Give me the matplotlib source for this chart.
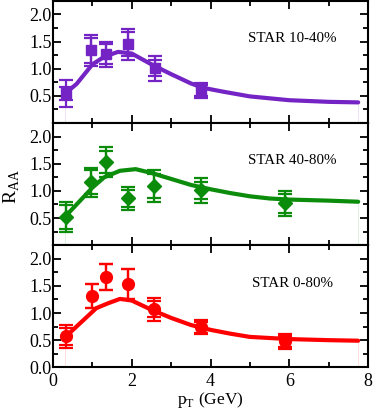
import matplotlib
matplotlib.use("Agg")
import matplotlib.pyplot as plt
from matplotlib.ticker import MultipleLocator

plt.rcParams['font.family'] = ['Liberation Serif', 'DejaVu Serif']

# ---- data: STAR 10-40% ----
pt_1040 = [0.32, 0.97, 1.34, 1.90, 2.58, 3.76]
r_1040 = [0.55, 1.34, 1.27, 1.45, 1.01, 0.60]
errA_1040 = [0.25, 0.29, 0.23, 0.29, 0.23, 0.14]
errB_1040 = [0.12, 0.23, 0.18, 0.22, 0.15, 0.10]
curve_x_1040 = [0.3, 0.6, 1.0, 1.3, 1.65, 2.0, 2.5, 3.0, 3.5, 3.8, 4.3, 5.0, 6.0, 7.0, 7.75]
curve_y_1040 = [0.54, 0.72, 1.08, 1.22, 1.31, 1.28, 1.08, 0.90, 0.73, 0.65, 0.58, 0.49, 0.42, 0.39, 0.38]

# ---- data: STAR 40-80% ----
pt_4080 = [0.32, 0.97, 1.35, 1.90, 2.56, 3.75, 5.90]
r_4080 = [0.52, 1.16, 1.53, 0.86, 1.09, 1.01, 0.77]
errA_4080 = [0.28, 0.27, 0.27, 0.21, 0.29, 0.23, 0.23]
errB_4080 = [0.22, 0.22, 0.20, 0.16, 0.23, 0.16, 0.17]
curve_x_4080 = [0.3, 0.6, 1.0, 1.3, 1.7, 2.1, 2.5, 3.0, 3.5, 4.0, 4.5, 5.0, 5.5, 6.0, 7.0, 7.75]
curve_y_4080 = [0.52, 0.75, 1.06, 1.25, 1.37, 1.40, 1.33, 1.22, 1.11, 1.03, 0.96, 0.90, 0.86, 0.84, 0.82, 0.80]

# ---- data: STAR 0-80% ----
pt_080 = [0.32, 1.00, 1.35, 1.90, 2.56, 3.75, 5.90]
r_080 = [0.57, 1.31, 1.66, 1.53, 1.07, 0.74, 0.48]
errA_080 = [0.21, 0.22, 0.24, 0.28, 0.21, 0.13, 0.14]
errB_080 = [0.16, 0.22, 0.24, 0.28, 0.15, 0.10, 0.10]
curve_x_080 = [0.3, 0.7, 1.1, 1.4, 1.7, 2.0, 2.5, 3.0, 3.5, 4.0, 4.5, 5.0, 5.5, 6.0, 7.0, 7.75]
curve_y_080 = [0.55, 0.82, 1.09, 1.18, 1.26, 1.23, 1.06, 0.91, 0.78, 0.69, 0.62, 0.56, 0.54, 0.52, 0.50, 0.49]

panels = [
    ("STAR 10-40%", pt_1040, r_1040, errA_1040, errB_1040, curve_x_1040, curve_y_1040, '#7424c4', 's', 7.5),
    ("STAR 40-80%", pt_4080, r_4080, errA_4080, errB_4080, curve_x_4080, curve_y_4080, '#0b8c0b', 'D', 7.0),
    ("STAR 0-80%", pt_080, r_080, errA_080, errB_080, curve_x_080, curve_y_080, '#ff0000', 'o', 8.5),
]

fig = plt.figure(figsize=(3.74, 4.11), dpi=100)
left, width, h = 0.1417, 0.8423, 0.2972
bottoms = [0.7007, 0.4035, 0.1063]

for i, (label, px, py, ea, eb, cx, cy, col, mk, ms) in enumerate(panels):
    ax = fig.add_axes([left, bottoms[i], width, h])
    # faint edges of the model band
    ax.vlines([cx[0], cx[-1]], 0, [cy[0], cy[-1]], color=col, lw=0.6, alpha=0.15)
    ax.plot(cx, cy, color=col, lw=3, solid_capstyle='round', zorder=2)
    ax.errorbar(px, py, yerr=ea, fmt='none', ecolor=col, elinewidth=1.6,
                capsize=5, capthick=1.6, zorder=3)
    ax.errorbar(px, py, yerr=eb, fmt=mk, color=col, ms=ms, mec=col,
                ecolor=col, elinewidth=1.6, capsize=5, capthick=1.6, zorder=4)
    ax.text(0.76, 0.69, label, transform=ax.transAxes, ha='center', va='center',
            fontsize=10.8)
    ax.set_xlim(0, 8)
    ax.set_ylim(0, 2.25)
    ax.xaxis.set_major_locator(MultipleLocator(2))
    ax.xaxis.set_minor_locator(MultipleLocator(1))
    ax.yaxis.set_major_locator(MultipleLocator(0.5))
    ax.yaxis.set_minor_locator(MultipleLocator(0.25))
    ax.tick_params(which='both', direction='in', top=True, right=True, width=1.3,
                   labelsize=13)
    ax.tick_params(axis='y', pad=1)
    ax.tick_params(axis='x', pad=4)
    ax.tick_params(which='major', length=6)
    ax.tick_params(which='minor', length=3.5)
    for s in ax.spines.values():
        s.set_linewidth(1.5)
    if i < 2:
        ax.set_yticks([0.5, 1.0, 1.5, 2.0])
        ax.tick_params(labelbottom=False)
    else:
        ax.set_yticks([0.0, 0.5, 1.0, 1.5, 2.0])
        ax.set_xlabel(r'p$_\mathregular{T}$ (GeV)', fontsize=12.5, labelpad=0)
    ax.set_yticklabels([f"{v:.1f}" for v in ax.get_yticks()])

fig.text(0.032, 0.547, r'R$_\mathregular{AA}$', rotation=90, ha='center', va='center',
         fontsize=14)

fig.savefig("out.png", dpi=100)
